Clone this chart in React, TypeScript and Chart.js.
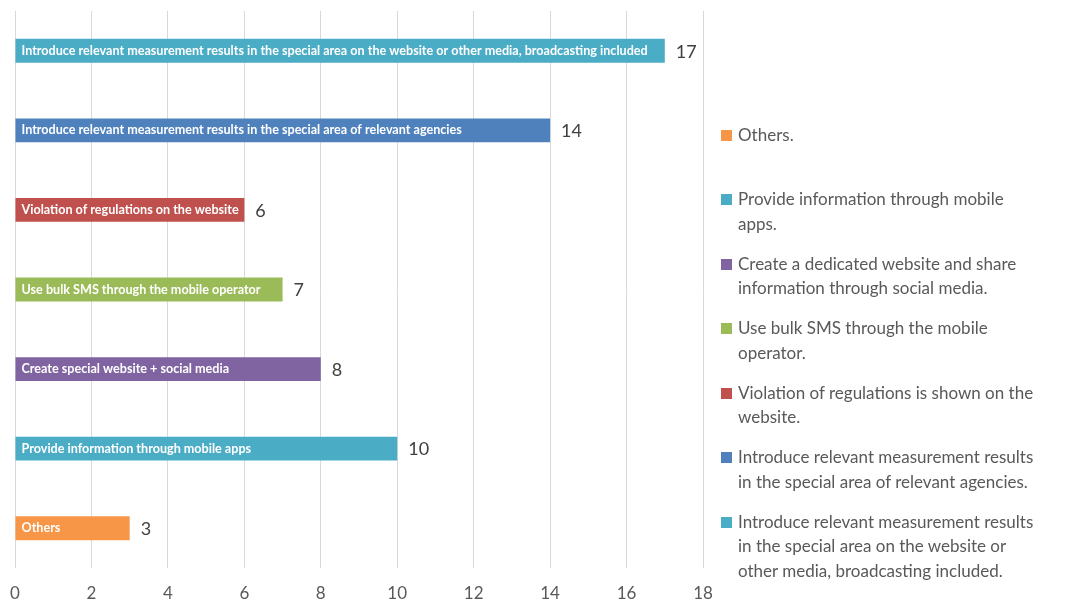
import React, { useEffect, useRef } from "react";
import { Chart, registerables } from "chart.js";

Chart.register(...registerables);

const categories = [
  "Introduce relevant measurement results in the special area on the website or other media, broadcasting included",
  "Introduce relevant measurement results in the special area of relevant agencies",
  "Violation of regulations on the website",
  "Use bulk SMS through the mobile operator",
  "Create special website + social media",
  "Provide information through mobile apps",
  "Others",
];
const values = [17, 14, 6, 7, 8, 10, 3];
const barColors = ["#4bacc6", "#4f81bd", "#c0504d", "#9bbb59", "#8064a2", "#4bacc6", "#f79646"];
const xTicks = [0, 2, 4, 6, 8, 10, 12, 14, 16, 18];

const legendLabels: string[][] = [
  ["Others."],
  ["Provide information through mobile", "apps."],
  ["Create a dedicated website and share", "information through social media."],
  ["Use bulk SMS through the mobile", "operator."],
  ["Violation of regulations is shown on the", "website."],
  ["Introduce relevant measurement results", "in the special area of relevant agencies."],
  ["Introduce relevant measurement results", "in the special area on the website or", "other media, broadcasting included."],
];
const legendColors = ["#f79646", "#4bacc6", "#8064a2", "#9bbb59", "#c0504d", "#4f81bd", "#4bacc6"];

const FONT = "Lato, 'Noto Sans', sans-serif";

const labelPlugin = {
  id: "barLabels",
  afterDatasetsDraw(chart: any) {
    const ctx = chart.ctx;
    const meta = chart.getDatasetMeta(0);
    ctx.save();
    meta.data.forEach((bar: any, i: number) => {
      const { x, y, base } = bar.getProps(["x", "y", "base"], true);
      ctx.textBaseline = "middle";
      ctx.textAlign = "left";
      ctx.fillStyle = "#ffffff";
      ctx.font = `bold 12.6px ${FONT}`;
      ctx.fillText(String(chart.data.labels[i]), base + 6, y);
      ctx.fillStyle = "#404040";
      ctx.font = `18px ${FONT}`;
      ctx.fillText(String(values[i]), x + 11, y + 1);
    });
    ctx.restore();
  },
};

export default function App() {
  const ref = useRef<HTMLCanvasElement | null>(null);
  useEffect(() => {
    if (!ref.current) return;
    const chart = new Chart(ref.current, {
      type: "bar",
      data: {
        labels: categories,
        datasets: [
          {
            data: values,
            backgroundColor: barColors,
            borderWidth: 0,
            barPercentage: 0.3,
            categoryPercentage: 1,
          },
        ],
      },
      options: {
        indexAxis: "y",
        animation: false,
        responsive: true,
        maintainAspectRatio: false,
        layout: { padding: { left: 15, right: 369, top: 11, bottom: 2 } },
        plugins: { legend: { display: false }, tooltip: { enabled: false } },
        scales: {
          x: {
            min: 0,
            max: 18,
            afterBuildTicks: (axis: any) => {
              axis.ticks = xTicks.map((v) => ({ value: v }));
            },
            afterFit: (axis: any) => {
              axis.height = 33;
              axis.paddingLeft = 0;
              axis.paddingRight = 0;
            },
            grid: { color: "#d9d9d9", lineWidth: 1, drawTicks: false },
            border: { display: false },
            ticks: { padding: 15, color: "#595959", font: { family: FONT, size: 17 } },
          },
          y: { display: false },
        },
      },
      plugins: [labelPlugin],
    });
    return () => chart.destroy();
  }, []);

  return (
    <div style={{ position: "fixed", left: 0, top: 0, width: 1072, height: 603, background: "#fff" }}>
      <canvas ref={ref} />
      <div
        style={{
          position: "absolute",
          left: 721,
          top: 122.75,
          fontFamily: FONT,
          fontSize: 17,
          lineHeight: "24.5px",
          color: "#595959",
        }}
      >
        {legendLabels.map((lines, i) => (
          <div key={i} style={{ position: "relative", minHeight: 49, marginBottom: 15.5, paddingLeft: 17, whiteSpace: "nowrap" }}>
            <span
              style={{
                position: "absolute",
                left: 0,
                top: 7,
                width: 11,
                height: 11,
                background: legendColors[i],
              }}
            />
            {lines.map((t, j) => (
              <div key={j}>{t}</div>
            ))}
          </div>
        ))}
      </div>
    </div>
  );
}
